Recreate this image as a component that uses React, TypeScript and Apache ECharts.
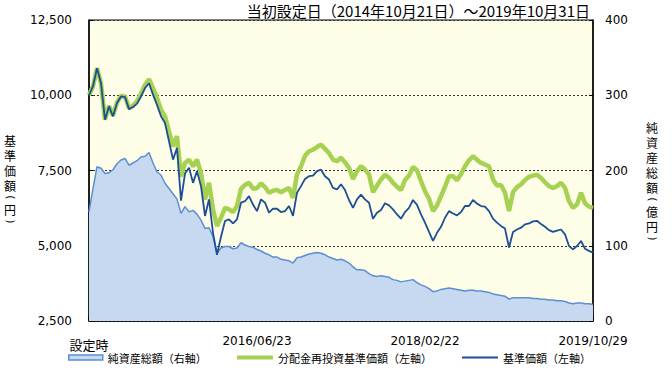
import React, { useEffect, useRef } from 'react';
import * as echarts from 'echarts';

// x-axis tick labels (at start, 1/3, 2/3, end of the period)
const xTickLabels = ['設定時', '2016/06/23', '2018/02/22', '2019/10/29'];
const LABEL_STEP = 42;

// 基準価額（左軸, 円）
const navValues = [
  10000, 10300, 10900, 10400, 9190, 9630, 9300, 9740, 9960, 9940,
  9540, 9610, 9720, 9960, 10240, 10400, 10020, 9680, 9300, 9080,
  8470, 7860, 8250, 6500, 7400, 7590, 7090, 7480, 6980, 5990,
  6540, 5430, 4700, 5300, 5820, 5880, 5740, 5880, 6430, 6480,
  6650, 6370, 6150, 6540, 6430, 6100, 6230, 6230, 6120, 6150,
  6320, 5990, 6760, 6980, 7220, 7310, 7330, 7480, 7530, 7310,
  7200, 6920, 6870, 7040, 6850, 6520, 6260, 6540, 6700, 6540,
  6430, 5900, 6100, 6190, 6410, 6340, 6210, 6040, 5900, 6120,
  6260, 6520, 6360, 6040, 5770, 5460, 5160, 5430, 5630, 5930,
  6150, 6070, 6010, 6120, 6320, 6320, 6520, 6400, 6320, 6300,
  6150, 5900, 5770, 5660, 5570, 4940, 5460, 5540, 5600, 5710,
  5740, 5810, 5830, 5720, 5630, 5520, 5460, 5500, 5540, 5380,
  4990, 4880, 4990, 5160, 4900, 4830, 4770,
];

// 分配金再投資基準価額（左軸, 円）
const reinvestValues = [
  10000, 10300, 10900, 10400, 9190, 9650, 9320, 9760, 9980, 9960,
  9570, 9650, 9800, 10050, 10350, 10530, 10240, 9910, 9520, 9300,
  8800, 8300, 8640, 7300, 7750, 7860, 7640, 7860, 7420, 6540,
  7090, 6210, 5660, 5930, 6260, 6210, 6120, 6320, 6890, 7020,
  7090, 6890, 6920, 7070, 6950, 6760, 6830, 6850, 6780, 6850,
  6920, 6590, 7370, 7640, 7990, 8140, 8190, 8280, 8360, 8220,
  8080, 7860, 7810, 7920, 7770, 7590, 7220, 7480, 7640, 7530,
  7370, 6780, 7000, 7200, 7360, 7260, 7090, 6960, 6850, 7180,
  7330, 7620, 7510, 7150, 6810, 6560, 6150, 6340, 6650, 6960,
  7310, 7310, 7180, 7380, 7640, 7840, 7970, 7860, 7750, 7700,
  7640, 7200, 7000, 7020, 6760, 6150, 6780, 6950, 7040, 7180,
  7290, 7330, 7360, 7250, 7110, 6980, 6920, 6980, 7090, 6920,
  6480, 6260, 6370, 6760, 6410, 6300, 6260,
];

// 純資産総額（右軸, 億円）
const netAssets = [
  145, 176, 205, 203, 196, 197, 201, 209, 214, 216,
  207, 210, 213, 218, 219, 224, 210, 198, 194, 183,
  176, 169, 162, 143, 152, 145, 147, 142, 134, 123,
  124, 112, 90, 97, 99, 99, 96, 97, 104, 101,
  99, 98, 95, 93, 90, 88, 85, 85, 82, 81,
  80, 77, 84, 85, 87, 89, 90, 91, 90, 88,
  85, 83, 81, 82, 80, 77, 72, 68, 68, 67,
  63, 60, 59, 60, 59, 58, 55, 54, 52, 53,
  54, 55, 51, 48, 46, 43, 39, 40, 42, 43,
  44, 43, 42, 41, 40, 41, 41, 40, 40, 39,
  38, 36, 35, 34, 33, 29, 31, 31, 31, 31,
  31, 30, 30, 29, 29, 28, 28, 27, 27, 26,
  24, 23, 24, 24, 23, 23, 22,
];

const leftTicks = { min: 2500, max: 12500, interval: 2500 };
const rightTicks = { min: 0, max: 400, interval: 100 };

const TITLE = '当初設定日（2014年10月21日）～2019年10月31日';
const NAME_NET = '純資産総額（右軸）';
const NAME_REINV = '分配金再投資基準価額（左軸）';
const NAME_NAV = '基準価額（左軸）';

// vertical axis titles, one glyph per entry ('(' / ')' are drawn turned)
const leftAxisTitle = ['基', '準', '価', '額', '(', '円', ')'];
const rightAxisTitle = ['純', '資', '産', '総', '額', '(', '億', '円', ')'];

const NUM_FONT = "'DejaVu Sans', 'Noto Sans CJK JP', sans-serif";
const CJK_FONT = "'Noto Sans CJK JP', 'DejaVu Sans', sans-serif";

const C_GREEN = '#A6D152';
const C_NAV = '#1C4F96';
const C_AREA = '#C6D9F0';
const C_AREA_LINE = '#5B8FD2';

const categories = navValues.map((_, i) => String(i));

const PITCH = 15;
const PAREN_PITCH = 9;

function verticalTitle(chars: string[], cx: number, top: number) {
  const els: any[] = [];
  let y = top;
  let run: string[] = [];
  let runTop = top;
  const flush = () => {
    if (!run.length) return;
    els.push({
      type: 'text',
      x: cx,
      y: runTop,
      style: {
        text: run.join('\n'),
        fontFamily: CJK_FONT,
        fontSize: 12,
        lineHeight: PITCH,
        fill: '#000',
        align: 'center',
        verticalAlign: 'top',
      },
    });
    run = [];
  };
  chars.forEach((ch) => {
    const paren = ch === '(' || ch === ')';
    if (paren) {
      flush();
      els.push({
        type: 'text',
        x: cx,
        y: y + PAREN_PITCH / 2,
        rotation: -Math.PI / 2,
        style: {
          text: ch,
          fontFamily: NUM_FONT,
          fontSize: 11,
          fill: '#000',
          align: 'center',
          verticalAlign: 'middle',
        },
      });
      y += PAREN_PITCH;
      runTop = y;
    } else {
      if (!run.length) runTop = y;
      run.push(ch);
      y += PITCH;
    }
  });
  flush();
  return els;
}

export default function App() {
  const ref = useRef<HTMLDivElement>(null);

  useEffect(() => {
    if (!ref.current) return;
    const chart = echarts.init(ref.current, undefined, { renderer: 'svg' });
    chart.setOption({
      animation: false,
      backgroundColor: '#fff',
      title: {
        text: TITLE,
        right: 82,
        top: 3,
        padding: 0,
        textStyle: { fontFamily: CJK_FONT, fontSize: 15, fontWeight: 'normal', color: '#000' },
      },
      graphic: [
        ...verticalTitle(leftAxisTitle, 10, 133),
        ...verticalTitle(rightAxisTitle, 652, 120),
      ],
      grid: {
        left: 89,
        right: 79,
        top: 20,
        bottom: 51,
        show: true,
        backgroundColor: '#FEFDE7',
        borderColor: '#000',
        borderWidth: 1,
        containLabel: false,
      },
      legend: [
        {
          data: [NAME_NET],
          left: 68,
          top: 352,
          padding: 0,
          icon: 'rect',
          itemWidth: 34,
          itemHeight: 5,
          itemStyle: { color: C_AREA, borderColor: C_AREA_LINE, borderWidth: 1.5 },
          textStyle: { fontFamily: CJK_FONT, fontSize: 11, color: '#000' },
        },
        {
          data: [NAME_REINV],
          left: 237,
          top: 352,
          padding: 0,
          icon: 'rect',
          itemWidth: 36,
          itemHeight: 4,
          itemStyle: { color: C_GREEN },
          textStyle: { fontFamily: CJK_FONT, fontSize: 11, color: '#000' },
        },
        {
          data: [NAME_NAV],
          left: 462,
          top: 352,
          padding: 0,
          icon: 'rect',
          itemWidth: 36,
          itemHeight: 2,
          itemStyle: { color: C_NAV },
          textStyle: { fontFamily: CJK_FONT, fontSize: 11, color: '#000' },
        },
      ],
      xAxis: {
        type: 'category',
        data: categories,
        boundaryGap: false,
        axisLine: { show: true, lineStyle: { color: '#000', width: 1.5 } },
        axisTick: {
          show: true,
          inside: true,
          length: 5,
          interval: (i: number) => i % LABEL_STEP === 0,
          lineStyle: { color: '#000', width: 1.5 },
        },
        axisLabel: {
          interval: (i: number) => i % LABEL_STEP === 0,
          formatter: (_v: string, i: number) => {
            if (i % LABEL_STEP !== 0) return '';
            const label = xTickLabels[i / LABEL_STEP];
            return i === 0 ? '{s|' + label + '}' : label;
          },
          margin: 14,
          fontFamily: NUM_FONT,
          fontSize: 12,
          color: '#000',
          rich: {
            s: { fontFamily: CJK_FONT, fontSize: 13, color: '#000', padding: [3, 0, 0, 0] },
          },
        },
        splitLine: { show: false },
      },
      yAxis: [
        {
          type: 'value',
          position: 'left',
          min: leftTicks.min,
          max: leftTicks.max,
          interval: leftTicks.interval,
          axisLine: { show: true, lineStyle: { color: '#000', width: 1.5 } },
          axisTick: { show: true, inside: true, length: 4, lineStyle: { color: '#000' } },
          axisLabel: {
            formatter: (v: number) => v.toLocaleString('en-US'),
            margin: 17,
            fontFamily: NUM_FONT,
            fontSize: 12,
            color: '#000',
          },
          splitLine: {
            show: true,
            lineStyle: { color: '#333', width: 1, type: [2, 2] },
          },
        },
        {
          type: 'value',
          position: 'right',
          min: rightTicks.min,
          max: rightTicks.max,
          interval: rightTicks.interval,
          axisLine: { show: true, lineStyle: { color: '#000', width: 1.5 } },
          axisTick: { show: true, inside: true, length: 4, lineStyle: { color: '#000' } },
          axisLabel: {
            margin: 12,
            fontFamily: NUM_FONT,
            fontSize: 12,
            color: '#000',
          },
          splitLine: { show: false },
        },
      ],
      series: [
        {
          name: NAME_NET,
          type: 'line',
          yAxisIndex: 1,
          data: netAssets,
          symbol: 'none',
          color: C_AREA,
          lineStyle: { color: C_AREA_LINE, width: 1.5 },
          areaStyle: { color: C_AREA, opacity: 1 },
          z: 1,
        },
        {
          name: NAME_REINV,
          type: 'line',
          yAxisIndex: 0,
          data: reinvestValues,
          symbol: 'none',
          color: C_GREEN,
          lineStyle: { color: C_GREEN, width: 4.5 },
          z: 2,
        },
        {
          name: NAME_NAV,
          type: 'line',
          yAxisIndex: 0,
          data: navValues,
          symbol: 'none',
          color: C_NAV,
          lineStyle: { color: C_NAV, width: 1.8 },
          z: 3,
        },
      ],
    });
    return () => chart.dispose();
  }, []);

  return (
    <div
      ref={ref}
      style={{ position: 'fixed', left: 0, top: 0, width: 672, height: 372 }}
    />
  );
}
